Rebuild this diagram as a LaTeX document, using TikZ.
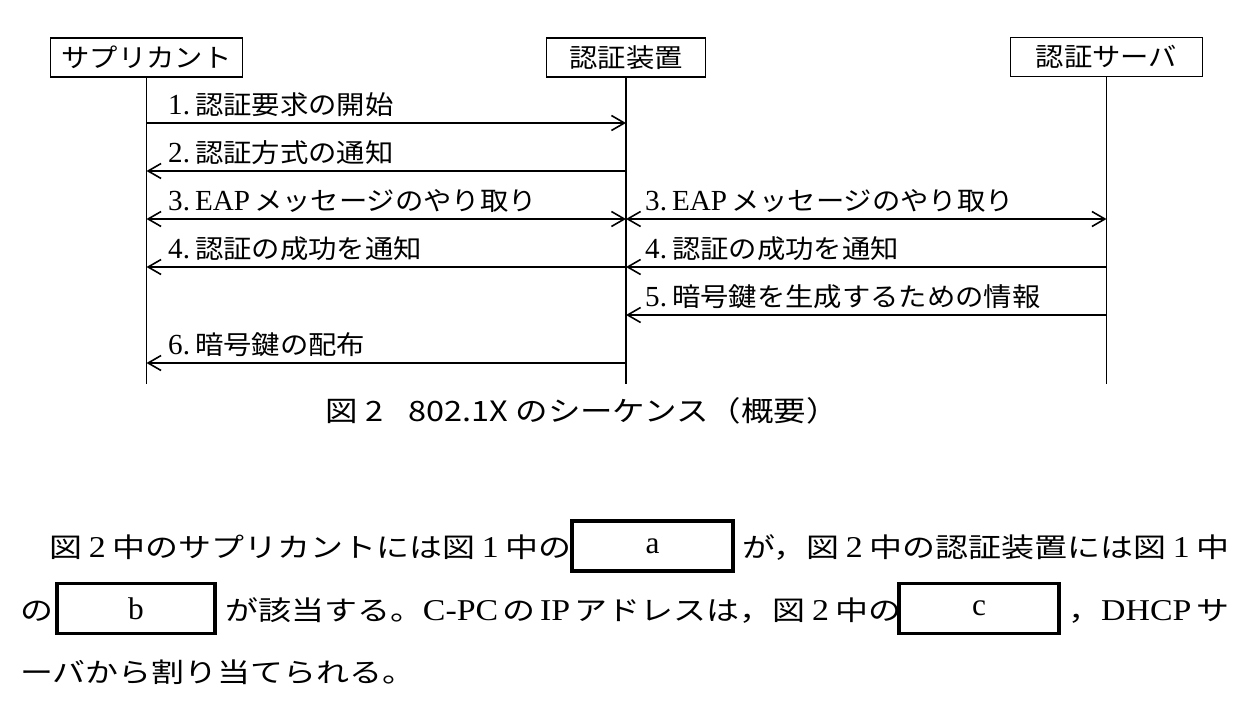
\documentclass[tikz,border=0pt]{standalone}
\usepackage{fontspec}
\setmainfont{Noto Sans CJK JP}[FakeStretch=1.09]
\newfontfamily\lat{Liberation Serif}[Scale=1.12]
\newfontfamily\goth{Noto Sans CJK JP}
\usetikzlibrary{arrows.meta}
\newcommand\lt[1]{{\lat #1}}
\newcommand\wide[1]{\scalebox{1.12}[1]{#1}}
\begin{document}
\begin{tikzpicture}[x=1pt,y=-1pt,
  actor/.style={draw, line width=1.6pt, minimum height=39pt, inner sep=0pt,
    font=\fontsize{26}{30}\selectfont},
  life/.style={line width=1.5pt},
  barb/.tip={Straight Barb[length=13pt,width=15pt]},
  msg/.style={line width=1.6pt, -{barb}},
  dmsg/.style={line width=1.6pt, {barb}-{barb}},
  lbl/.style={anchor=base west, inner sep=0pt, font=\fontsize{26}{30}\selectfont},
  blank/.style={draw, line width=3.5pt, inner sep=0pt, minimum height=50pt,
    font=\lat\fontsize{28}{30}\selectfont, text depth=0pt},
  lowltr/.style={text height=14.4pt},
  highltr/.style={text height=21.4pt},
  para/.style={anchor=base west, inner sep=0pt, font=\fontsize{27}{32}\selectfont}]
\useasboundingbox (0,0) rectangle (1244,706);
% actors
\node[actor, minimum width=192pt] (sup) at (146.5,57.5) {サプリカント};
\node[actor, minimum width=159pt] (auth) at (626,57.5) {認証装置};
\node[actor, minimum width=192pt] (srv) at (1106.5,57) {認証サーバ};
% rows
\coordinate (bot) at (0,384);
\coordinate (r1) at (0,123);
\coordinate (r2) at (0,171);
\coordinate (r3) at (0,219);
\coordinate (r4) at (0,267);
\coordinate (r5) at (0,315);
\coordinate (r6) at (0,363);
% lifelines
\draw[life] (sup.south) -- (sup.south |- bot);
\draw[life] (auth.south) -- (auth.south |- bot);
\draw[life] (srv.south) -- (srv.south |- bot);
% messages
\draw[msg] (sup.south |- r1) -- (auth.south |- r1);
\draw[msg] (auth.south |- r2) -- (sup.south |- r2);
\draw[dmsg] (sup.south |- r3) -- (auth.south |- r3);
\draw[dmsg] (auth.south |- r3) -- (srv.south |- r3);
\draw[msg] (auth.south |- r4) -- (sup.south |- r4);
\draw[msg] (srv.south |- r4) -- (auth.south |- r4);
\draw[msg] (srv.south |- r5) -- (auth.south |- r5);
\draw[msg] (auth.south |- r6) -- (sup.south |- r6);
% labels
\node[lbl] (l1) at (168,114) {\lt{1.}\hspace{5pt}認証要求の開始};
\node[lbl] (l2) at (168,162) {\lt{2.}\hspace{5pt}認証方式の通知};
\node[lbl] (l3a) at (168,210) {\lt{3.}\hspace{5pt}\lt{EAP}\hspace{4pt}メッセージのやり取り};
\node[lbl] (l3b) at (645,210) {\lt{3.}\hspace{5pt}\lt{EAP}\hspace{4pt}メッセージのやり取り};
\node[lbl] (l4a) at (168,258) {\lt{4.}\hspace{5pt}認証の成功を通知};
\node[lbl] (l4b) at (645,258) {\lt{4.}\hspace{5pt}認証の成功を通知};
\node[lbl] (l5) at (645,306) {\lt{5.}\hspace{5pt}暗号鍵を生成するための情報};
\node[lbl] (l6) at (168,354) {\lt{6.}\hspace{5pt}暗号鍵の配布};
% caption
\node[inner sep=0pt, font=\goth\fontsize{28}{30}\selectfont] (cap) at (582,411)
  {\scalebox{1.16}[1]{図 2\hspace{22pt}802.1X のシーケンス（概要）}};
% paragraph
\node[blank, lowltr, minimum width=161pt] (ba) at (652.5,546) {a};
\node[blank, highltr, minimum width=158pt] (bb) at (136,608.5) {b};
\node[blank, lowltr, minimum width=160pt] (bc) at (979,608.5) {c};
\node[para] (p1a) at (49,557) {\wide{図\hspace{6pt}\lt{2}\hspace{6pt}中のサプリカントには図\hspace{6pt}\lt{1}\hspace{6pt}中の}};
\node[para] (p1b) at (742,557) {\wide{が，図\hspace{6pt}\lt{2}\hspace{6pt}中の認証装置には図\hspace{6pt}\lt{1}\hspace{6pt}中}};
\node[para] (p2a) at (20,620) {\wide{の}};
\node[para] (p2b) at (225,620) {\wide{が該当する。\lt{C-PC}\hspace{4pt}の\hspace{4pt}\lt{IP}\hspace{4pt}アドレスは，図\hspace{6pt}\lt{2}\hspace{6pt}中の}};
\node[para] (p2c) at (1068,620) {\wide{，\lt{DHCP}\hspace{4pt}サ}};
\node[para] (p3) at (20,682) {\wide{ーバから割り当てられる。}};
\end{tikzpicture}
\end{document}
